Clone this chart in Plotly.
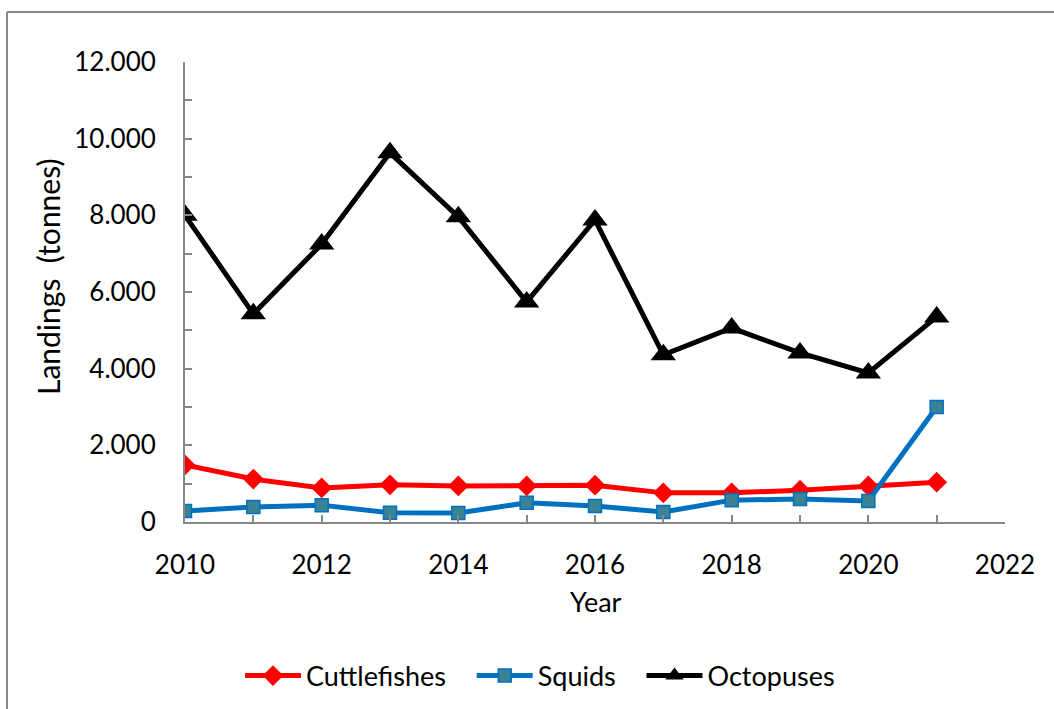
import plotly.graph_objects as go

years = list(range(2010, 2022))
cuttlefishes = [1490, 1120, 890, 970, 940, 940, 960, 760, 760, 830, 940, 1040]
squids = [290, 390, 440, 240, 235, 500, 420, 260, 570, 600, 550, 3000]
octopuses = [8000, 5430, 7250, 9630, 7960, 5740, 7880, 4360, 5060, 4410, 3890, 5350]

FONT = "Lato, Carlito, Open Sans, sans-serif"
AXC = "#878787"
NB = "\u00a0"

# plot area in px
L, R, T, B = 185, 1005, 62, 522
W, H = 1054, 709
pw, ph = R - L, B - T

def px(x):
    return (x - L) / pw

def py(y):
    return (B - y) / ph

fig = go.Figure()
fig.add_trace(go.Scatter(
    x=years, y=cuttlefishes, name="Cuttlefishes" + NB * 3, mode="lines+markers",
    line=dict(color="#FF0000", width=5),
    marker=dict(symbol="diamond", size=16, color="#FF0000", line=dict(width=0)),
))
fig.add_trace(go.Scatter(
    x=years, y=squids, name="Squids" + NB * 3, mode="lines+markers",
    line=dict(color="#0070C0", width=5),
    marker=dict(symbol="square", size=13, color="#3A8296", line=dict(color="#0070C0", width=1.5)),
))
fig.add_trace(go.Scatter(
    x=years, y=octopuses, name="Octopuses", mode="lines+markers",
    line=dict(color="#000000", width=5),
    marker=dict(symbol="triangle-up", size=22, color="#000000", line=dict(width=0)),
))

fig.update_layout(
    width=W, height=H,
    margin=dict(l=L, r=W - R, t=T, b=H - B, autoexpand=False),
    paper_bgcolor="white", plot_bgcolor="white",
    separators=",.",
    font=dict(family=FONT, size=25, color="#000000"),
    showlegend=True,
    legend=dict(orientation="h", x=px(540), y=py(676), xanchor="center", yanchor="middle",
                font=dict(family=FONT, size=27), bgcolor="rgba(0,0,0,0)",
                itemwidth=56, tracegroupgap=0),
    xaxis=dict(range=[2010, 2022], tickmode="array", tickvals=[2010, 2012, 2014, 2016, 2018, 2020, 2022],
               ticktext=["2010", "2012", "2014", "2016", "2018", "2020", "2022"],
               ticks="inside", ticklen=7, tickwidth=1.5, tickcolor=AXC,
               minor=dict(tickmode="array", tickvals=list(range(2011, 2022, 2)), ticks="inside", ticklen=7,
                          tickwidth=1.5, tickcolor=AXC),
               showline=True, linecolor=AXC, linewidth=2, showgrid=False, zeroline=False,
               automargin=False,
               ticklabelstandoff=19, tickfont=dict(family=FONT, size=26)),
    yaxis=dict(range=[0, 12000], tickmode="array", tickvals=[0, 2000, 4000, 6000, 8000, 10000, 12000],
               tickformat=",d",
               ticks="inside", ticklen=7, tickwidth=1.5, tickcolor=AXC,
               minor=dict(tickmode="array", tickvals=[1000, 3000, 5000, 7000, 9000, 11000], ticks="inside",
                          ticklen=7, tickwidth=1.5, tickcolor=AXC),
               showline=True, linecolor=AXC, linewidth=2, showgrid=False, zeroline=False,
               automargin=False,
               ticklabelstandoff=22, tickfont=dict(family=FONT, size=26)),
    annotations=[
        dict(text="Landings  (tonnes)", x=px(48), y=py(277), xref="paper", yref="paper",
             textangle=-90, showarrow=False, xanchor="center", yanchor="middle",
             font=dict(family=FONT, size=30)),
        dict(text="Year", x=px(596), y=py(601), xref="paper", yref="paper",
             showarrow=False, xanchor="center", yanchor="middle",
             font=dict(family=FONT, size=27)),
    ],
    shapes=[
        dict(type="line", xref="paper", yref="paper", x0=px(7), x1=px(1060), y0=py(12), y1=py(12),
             line=dict(color="#8A8A8A", width=2)),
        dict(type="line", xref="paper", yref="paper", x0=px(7), x1=px(7), y0=py(12), y1=py(715),
             line=dict(color="#8A8A8A", width=2)),
    ],
)

fig.write_html("out.html")
